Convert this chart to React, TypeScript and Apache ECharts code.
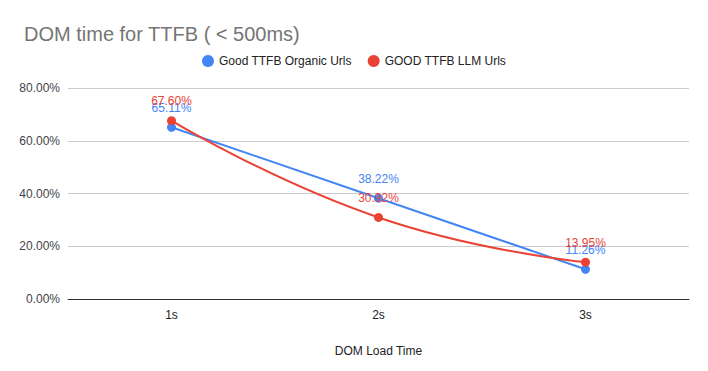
import React, { useEffect, useRef } from "react";
import * as echarts from "echarts";

const categories = ["1s", "2s", "3s"];
const organicValues = [65.11, 38.22, 11.26];
const llmValues = [67.6, 30.92, 13.95];
const seriesNames = ["Good TTFB Organic Urls", "GOOD TTFB LLM Urls"];
const yTicks = [0, 20, 40, 60, 80];

const FONT = "'Liberation Sans', Arial, sans-serif";

export default function App() {
  const ref = useRef<HTMLDivElement>(null);
  useEffect(() => {
    if (!ref.current) return;
    const chart = echarts.init(ref.current, undefined, { renderer: "svg" });
    chart.setOption({
      animation: false,
      backgroundColor: "#ffffff",
      textStyle: { fontFamily: FONT },
      title: {
        text: "DOM time for TTFB ( < 500ms)",
        left: 19,
        top: 19,
        textStyle: { fontFamily: FONT, fontSize: 20, fontWeight: "normal", color: "#757575" },
      },
      legend: {
        top: 50,
        left: "center",
        icon: "circle",
        itemWidth: 12,
        itemHeight: 12,
        itemGap: 16,
        textStyle: { fontFamily: FONT, fontSize: 12, color: "#222222" },
        data: seriesNames,
      },
      grid: { left: 68, right: 19, top: 88, bottom: 72, containLabel: false },
      xAxis: {
        type: "category",
        data: categories,
        boundaryGap: true,
        name: "DOM Load Time",
        nameLocation: "middle",
        nameGap: 46,
        nameTextStyle: { fontFamily: FONT, fontSize: 12, color: "#222222" },
        axisLine: { lineStyle: { color: "#333333", width: 1 } },
        axisTick: { show: false },
        axisLabel: { fontFamily: FONT, fontSize: 12, color: "#222222", margin: 10 },
      },
      yAxis: {
        type: "value",
        min: 0,
        max: 80,
        interval: 20,
        axisLine: { show: false },
        axisTick: { show: false },
        splitLine: { lineStyle: { color: "#cccccc", width: 1 } },
        axisLabel: {
          fontFamily: FONT,
          fontSize: 12,
          color: "#444444",
          margin: 8,
          formatter: (v: number) => (yTicks.includes(v) ? v.toFixed(2) + "%" : ""),
        },
      },
      series: [
        {
          name: seriesNames[0],
          type: "line",
          data: organicValues,
          smooth: false,
          symbol: "circle",
          symbolSize: 9,
          itemStyle: { color: "#4285F4" },
          lineStyle: { color: "#4285F4", width: 2 },
          label: {
            show: true,
            position: "top",
            distance: 9,
            fontFamily: FONT,
            fontSize: 12,
            color: "#4285F4",
            formatter: (p: any) => Number(p.value).toFixed(2) + "%",
          },
          z: 2,
        },
        {
          name: seriesNames[1],
          type: "line",
          data: llmValues,
          smooth: true,
          symbol: "circle",
          symbolSize: 9,
          itemStyle: { color: "#EA4335" },
          lineStyle: { color: "#EA4335", width: 2 },
          label: {
            show: true,
            position: "top",
            distance: 9,
            fontFamily: FONT,
            fontSize: 12,
            color: "#EA4335",
            formatter: (p: any) => Number(p.value).toFixed(2) + "%",
          },
          z: 3,
        },
      ],
    });
    return () => chart.dispose();
  }, []);
  return (
    <div
      ref={ref}
      style={{ position: "fixed", left: 0, top: 0, width: 708, height: 371 }}
    />
  );
}
